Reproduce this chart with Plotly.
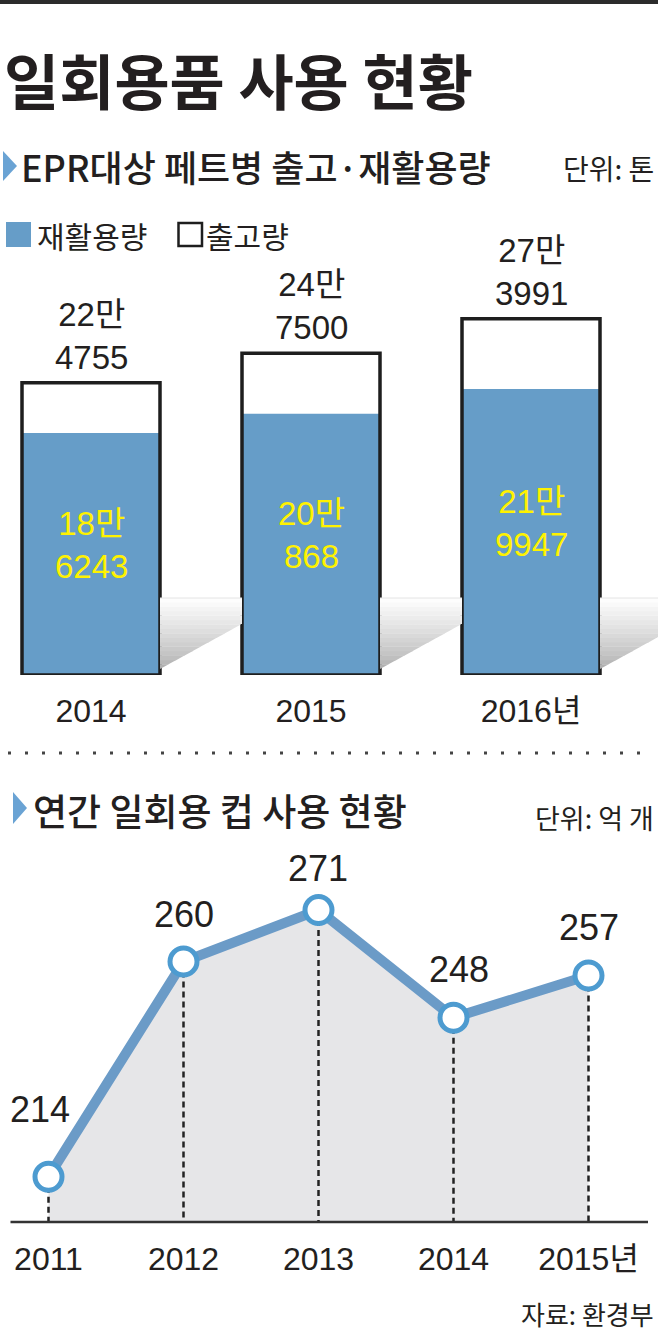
import plotly.graph_objects as go

W, H = 658, 1336

# ---------------- data ----------------
bar_years = ["2014", "2015", "2016"]
bar_tick_labels = ["2014", "2015", "2016년"]
shipped = [224755, 247500, 273991]     # 출고량
recycled = [186243, 200868, 219947]    # 재활용량

cup_years = [2011, 2012, 2013, 2014, 2015]
cup_tick_labels = ["2011", "2012", "2013", "2014", "2015년"]
cup_usage = [214, 260, 271, 248, 257]  # 억 개

# ---------------- styles ----------------
TXT = "#231f20"
BLUE = "#669dc8"
LINE_BLUE = "#6b9bc7"
MARK_BLUE = "#4d9bd0"
YELLOW = "#fff200"
KO = "Noto Sans CJK KR"
NUM = "Liberation Sans, Arial, Noto Sans CJK KR"


def px(x):
    return x / W


def py(y):
    return 1 - y / H


# bar panel geometry (pixels)
BAR_BOTTOM, BAR_TOP, BAR_YMAX = 675, 285, 300000
BAR_C0, BAR_STEP, BAR_WPX = 91, 220, 138
bx_range = [(0 - BAR_C0) / BAR_STEP, (W - BAR_C0) / BAR_STEP]
bw = BAR_WPX / BAR_STEP
unit_per_px = BAR_YMAX / (BAR_BOTTOM - BAR_TOP)

# line panel geometry
L_BOTTOM, L_TOP = 1222, 840
L_X0, L_STEP = 48.5, 135
L_V0, L_PX0, L_SCALE = 271, 910, 4.68
lx_range = [cup_years[0] - L_X0 / L_STEP, cup_years[0] + (W - L_X0) / L_STEP]
ly_range = [L_V0 - (L_BOTTOM - L_PX0) / L_SCALE, L_V0 + (L_PX0 - L_TOP) / L_SCALE]

fig = go.Figure()
xs = list(range(len(bar_years)))

# floor shadows (decoration): banded vertical gradient, white at horizon -> grey at floor
horizon = (BAR_BOTTOM - 598) * unit_per_px
slope = 0.55
N_BANDS = 16
hx, hy = [], []
for i in xs:
    xr = i + bw / 2
    xe = (i + 1 - bw / 2) if i < len(xs) - 1 else bx_range[1]
    ys0 = 6 * unit_per_px
    ys1 = ys0 + (xe - xr) * BAR_STEP * slope * unit_per_px
    m = (ys1 - ys0) / (xe - xr)

    def xd(y):
        return min(xe, xr + max(0.0, (y - ys0)) / m)

    step = (horizon - ys0) / N_BANDS
    for k in range(N_BANDS):
        ya = ys0 + k * step
        yb = min(horizon, ya + step * 1.08)
        t = (k + 0.5) / N_BANDS
        g = int(round(172 + (255 - 172) * (t ** 0.8)))
        px_ = [xr, xd(ya)]
        py_ = [ya, ya]
        if xd(ya) < xe and xr + (yb - ys0) / m > xe:
            px_.append(xe)
            py_.append(ys1)
        px_ += [xd(yb), xr, xr]
        py_ += [yb, yb, ya]
        fig.add_trace(go.Scatter(x=px_, y=py_, mode="lines", line=dict(width=0), fill="toself",
                                 fillcolor=f"rgb({g},{g},{g})", hoverinfo="skip",
                                 xaxis="x", yaxis="y"))
    hx += [xr, xe, None]
    hy += [horizon, horizon, None]
fig.add_trace(go.Scatter(x=hx, y=hy, mode="lines", line=dict(color="#e4e4e4", width=1),
                         hoverinfo="skip", xaxis="x", yaxis="y"))

# bars
fig.add_trace(go.Bar(x=xs, y=shipped, width=bw, marker=dict(color="white", line=dict(width=0)),
                     hoverinfo="skip", xaxis="x", yaxis="y"))
fig.add_trace(go.Bar(x=xs, y=recycled, width=bw, marker=dict(color=BLUE, line=dict(width=0)),
                     hoverinfo="skip", xaxis="x", yaxis="y"))
fig.add_trace(go.Bar(x=xs, y=shipped, width=bw,
                     marker=dict(color="rgba(0,0,0,0)", line=dict(width=3.5, color="#1e1e1e")),
                     hoverinfo="skip", xaxis="x", yaxis="y"))

annotations = []
for i, (s, r) in enumerate(zip(shipped, recycled)):
    annotations.append(dict(x=i, y=s, xref="x", yref="y",
                            text=f"{s // 10000}만<br>{s % 10000}", showarrow=False,
                            yanchor="middle", yshift=47, font=dict(family=NUM, size=33, color=TXT)))
    annotations.append(dict(x=i, y=r / 2, xref="x", yref="y",
                            text=f"{r // 10000}만<br>{r % 10000}", showarrow=False,
                            yanchor="middle", yshift=9, font=dict(family=NUM, size=33, color=YELLOW)))

# line panel
fig.add_trace(go.Scatter(x=cup_years, y=cup_usage, mode="lines", fill="tozeroy",
                         fillcolor="#e6e6e8", line=dict(width=0), hoverinfo="skip",
                         xaxis="x2", yaxis="y2"))
dx, dy = [], []
for yr, v in zip(cup_years, cup_usage):
    dx += [yr, yr, None]
    dy += [v, ly_range[0], None]
fig.add_trace(go.Scatter(x=dx, y=dy, mode="lines", line=dict(color="#222222", width=2.5, dash="6px,4px"),
                         hoverinfo="skip", xaxis="x2", yaxis="y2"))
fig.add_trace(go.Scatter(x=cup_years, y=cup_usage, mode="lines", line=dict(color=LINE_BLUE, width=10),
                         hoverinfo="skip", xaxis="x2", yaxis="y2"))
fig.add_trace(go.Scatter(x=cup_years, y=cup_usage, mode="markers",
                         marker=dict(size=27, color="white", line=dict(color=MARK_BLUE, width=5)),
                         hoverinfo="skip", cliponaxis=False, xaxis="x2", yaxis="y2"))

label_yshift = [67, 47, 42, 48, 48]
label_xshift = [-9, 0, -1, 5, 0]
for yr, v, ys, xsft in zip(cup_years, cup_usage, label_yshift, label_xshift):
    annotations.append(dict(x=yr, y=v, xref="x2", yref="y2", text=str(v), showarrow=False,
                            yanchor="middle", yshift=ys, xshift=xsft,
                            font=dict(family=NUM, size=36, color=TXT)))

# texts
annotations += [
    dict(x=px(2), y=py(78), xref="paper", yref="paper", xanchor="left", yanchor="middle",
         text="일회용품 사용 현황", showarrow=False, font=dict(family=KO, size=60, color=TXT, weight=700)),
    dict(x=px(19), y=py(166), xref="paper", yref="paper", xanchor="left", yanchor="middle",
         text="EPR대상 페트병 출고·재활용량", showarrow=False, font=dict(family=KO, size=36, color=TXT, weight=500)),
    dict(x=px(656), y=py(168), xref="paper", yref="paper", xanchor="right", yanchor="middle",
         text="단위: 톤", showarrow=False, font=dict(family=KO, size=28, color=TXT)),
    dict(x=px(35), y=py(235), xref="paper", yref="paper", xanchor="left", yanchor="middle",
         text="재활용량", showarrow=False, font=dict(family=KO, size=30, color=TXT)),
    dict(x=px(204), y=py(235), xref="paper", yref="paper", xanchor="left", yanchor="middle",
         text="출고량", showarrow=False, font=dict(family=KO, size=30, color=TXT)),
    dict(x=px(31), y=py(810), xref="paper", yref="paper", xanchor="left", yanchor="middle",
         text="연간 일회용 컵 사용 현황", showarrow=False, font=dict(family=KO, size=37, color=TXT, weight=500)),
    dict(x=px(656), y=py(817), xref="paper", yref="paper", xanchor="right", yanchor="middle",
         text="단위: 억 개", showarrow=False, font=dict(family=KO, size=27, color=TXT)),
    dict(x=px(656), y=py(1313), xref="paper", yref="paper", xanchor="right", yanchor="middle",
         text="자료: 환경부", showarrow=False, font=dict(family=KO, size=26, color=TXT)),
]


def tri(x0, y0, x1, y1):
    ym = (y0 + y1) / 2
    return dict(type="path", xref="paper", yref="paper", line=dict(width=0), fillcolor="#6aa3d4",
                path=f"M {px(x0)},{py(y0)} L {px(x1)},{py(ym)} L {px(x0)},{py(y1)} Z")


shapes = [
    dict(type="rect", xref="paper", yref="paper", x0=0, x1=1, y0=py(4), y1=1,
         fillcolor="#2b2b2b", line=dict(width=0)),
    tri(3, 151, 17, 181),
    tri(13, 792, 27, 824),
    dict(type="rect", xref="paper", yref="paper", x0=px(6), x1=px(31), y0=py(247), y1=py(222),
         fillcolor=BLUE, line=dict(width=0)),
    dict(type="rect", xref="paper", yref="paper", x0=px(178.5), x1=px(202), y0=py(246), y1=py(223),
         fillcolor="white", line=dict(width=2.5, color="#1e1e1e")),
    dict(type="line", xref="paper", yref="paper", x0=px(8), x1=px(652), y0=py(753), y1=py(753),
         line=dict(color="#444444", width=3, dash="3px,14px")),
    dict(type="line", xref="paper", yref="paper", x0=px(10.5), x1=px(648), y0=py(L_BOTTOM), y1=py(L_BOTTOM),
         line=dict(color="#333333", width=2.5)),
]

fig.update_layout(
    width=W, height=H, margin=dict(l=0, r=0, t=0, b=0),
    paper_bgcolor="white", plot_bgcolor="rgba(0,0,0,0)",
    showlegend=False, barmode="overlay",
    xaxis=dict(domain=[0, 1], range=bx_range, tickvals=xs, ticktext=bar_tick_labels,
               ticks="outside", ticklen=8, tickcolor="rgba(0,0,0,0)", showgrid=False,
               zeroline=False, showline=False, anchor="y", fixedrange=True,
               tickfont=dict(family=NUM, size=32, color=TXT)),
    yaxis=dict(domain=[py(BAR_BOTTOM), py(BAR_TOP)], range=[0, BAR_YMAX], visible=False,
               anchor="x", fixedrange=True),
    xaxis2=dict(domain=[0, 1], range=lx_range, tickvals=cup_years, ticktext=cup_tick_labels,
                ticks="outside", ticklen=9, tickcolor="rgba(0,0,0,0)", showgrid=False,
                zeroline=False, showline=False, anchor="y2", fixedrange=True,
                tickfont=dict(family=NUM, size=32, color=TXT)),
    yaxis2=dict(domain=[py(L_BOTTOM), py(L_TOP)], range=ly_range, visible=False,
                anchor="x2", fixedrange=True),
    annotations=annotations, shapes=shapes,
)

fig.write_html("out.html")
